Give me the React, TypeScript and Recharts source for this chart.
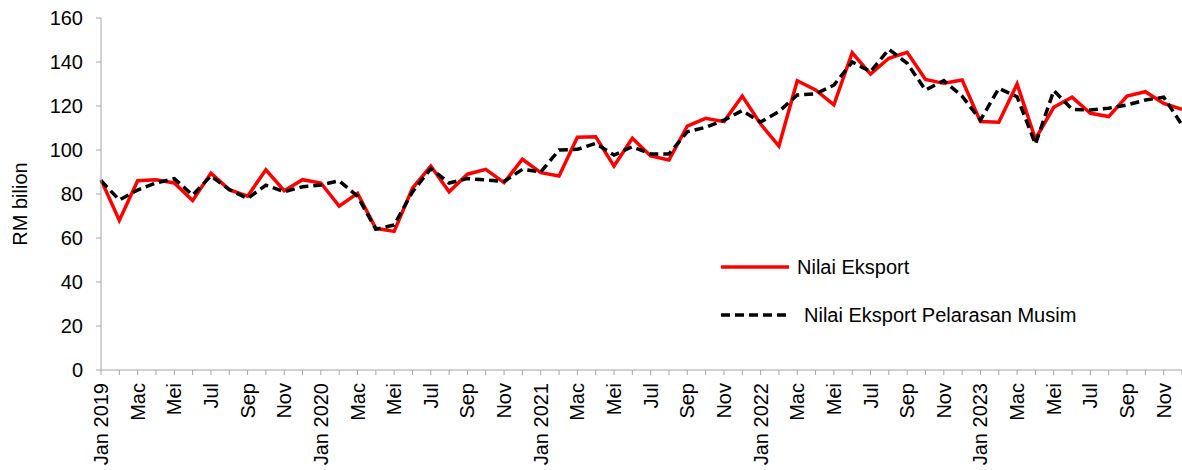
import { LineChart, Line, XAxis, YAxis, Legend } from 'recharts';

const years = [2019, 2020, 2021, 2022, 2023];
const monthNames = ['Jan', 'Feb', 'Mac', 'Apr', 'Mei', 'Jun', 'Jul', 'Ogo', 'Sep', 'Okt', 'Nov', 'Dis'];

// Nilai Eksport (RM bilion), Jan 2019 - Dis 2023
const eksport = [
  86.5, 68, 86, 86.5, 85, 77, 89.5, 82, 79, 91, 81.5, 86.5,
  85, 74.5, 80.3, 64.4, 63, 82.6, 92.7, 81, 89, 91.2, 85.2, 95.8,
  89.7, 88.2, 105.8, 106, 92.7, 105.3, 97.3, 95.5, 110.9, 114.4, 112.9, 124.5,
  111.8, 101.8, 131.5, 127.3, 120.5, 144.2, 134.5, 141.7, 144.4, 132.1, 130.3, 131.8,
  112.9, 112.6, 130, 105, 119.4, 124, 116.7, 115.2, 124.5, 126.5, 121.2, 118.5,
];

// Nilai Eksport Pelarasan Musim
const pelarasan = [
  86, 77.3, 81.8, 85, 87, 79.5, 88.2, 82, 78, 84, 81, 83.3,
  84.1, 86, 79, 64, 65.9, 81, 91.5, 85, 87, 86.4, 85.7, 91.2,
  90, 100, 100.3, 103, 97.7, 101.5, 98.2, 98.2, 108.3, 110.3, 113.6, 117.9,
  112.7, 117.5, 125, 125.5, 129.5, 140, 135.6, 145.8, 139.4, 127.3, 131.5, 124.5,
  113.6, 128, 124.2, 102.7, 127, 118.5, 118.2, 119, 120.5, 122.7, 124, 111.4,
];

const yTicks = [0, 20, 40, 60, 80, 100, 120, 140, 160];

const FONT = '"Liberation Sans", Arial, sans-serif';

const labels = years.flatMap(y => monthNames.map((m, i) => (i === 0 ? `${m} ${y}` : m)));

const data = labels.map((label, i) => ({
  key: i,
  label,
  eksport: eksport[i],
  pelarasan: pelarasan[i],
}));

const MonthTick = (props: any) => {
  const { x, y, payload } = props;
  const idx = payload.index;
  if (idx % 2 !== 0) return <g />;
  return (
    <g transform={`translate(${x},${y})`}>
      <text
        transform="rotate(-90)"
        textAnchor="end"
        dy="0.35em"
        fontSize={20}
        fontFamily={FONT}
        fill="#000"
      >
        {labels[idx]}
      </text>
    </g>
  );
};

const LegendBox = () => (
  <div style={{ fontFamily: FONT, fontSize: 20, color: '#000' }}>
    <div style={{ display: 'flex', alignItems: 'center', height: 24, marginBottom: 24 }}>
      <svg width={70} height={10}>
        <line x1={1} y1={5} x2={69} y2={5} stroke="#ff0000" strokeWidth={3.5} />
      </svg>
      <span style={{ marginLeft: 7 }}>Nilai Eksport</span>
    </div>
    <div style={{ display: 'flex', alignItems: 'center', height: 24 }}>
      <svg width={70} height={10}>
        <line x1={1} y1={5} x2={69} y2={5} stroke="#000" strokeWidth={3.5} strokeDasharray="9 5" />
      </svg>
      <span style={{ marginLeft: 14 }}>Nilai Eksport Pelarasan Musim</span>
    </div>
  </div>
);

const YLabel = (props: any) => {
  const { viewBox } = props;
  const cy = viewBox.y + viewBox.height / 2 + 10;
  return (
    <text
      x={20}
      y={cy}
      transform={`rotate(-90, 20, ${cy})`}
      textAnchor="middle"
      dy="0.35em"
      fontSize={20}
      fontFamily={FONT}
      fill="#000"
    >
      RM bilion
    </text>
  );
};

export default function App() {
  return (
    <div style={{ position: 'absolute', left: 0, top: 0, fontFamily: FONT }}>
      <LineChart width={1182} height={470} data={data} margin={{ top: 18, right: 0, bottom: 0, left: 0 }}>
        <XAxis
          dataKey="key"
          interval={0}
          tick={<MonthTick />}
          tickSize={5}
          tickMargin={8}
          stroke="#a6a6a6"
          height={100}
        />
        <YAxis
          domain={[0, 160]}
          ticks={yTicks}
          interval={0}
          width={101}
          tickSize={5}
          tickMargin={13}
          stroke="#a6a6a6"
          tick={{ fill: '#000', fontSize: 20, fontFamily: FONT }}
          label={<YLabel />}
        />
        <Legend
          layout="horizontal"
          verticalAlign="middle"
          align="center"
          content={<LegendBox />}
          wrapperStyle={{ position: 'absolute', left: 720, top: 255, width: 420 }}
        />
        <Line
          type="linear"
          dataKey="eksport"
          stroke="#ff0000"
          strokeWidth={3.5}
          dot={false}
          isAnimationActive={false}
        />
        <Line
          type="linear"
          dataKey="pelarasan"
          stroke="#000"
          strokeWidth={3.5}
          strokeDasharray="9 5"
          dot={false}
          isAnimationActive={false}
        />
      </LineChart>
    </div>
  );
}
